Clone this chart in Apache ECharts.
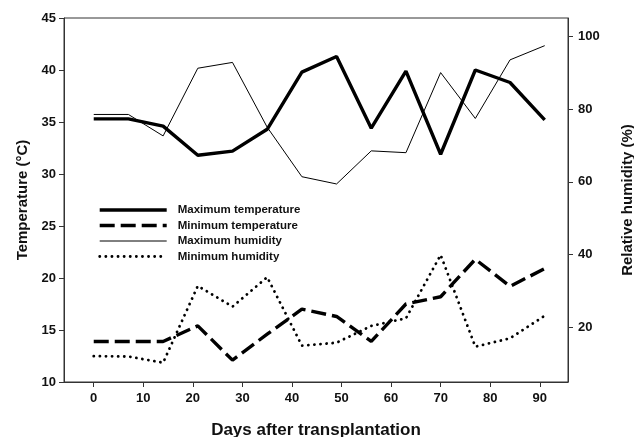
<!DOCTYPE html>
<html>
<head>
<meta charset="utf-8">
<script src="https://cdn.jsdelivr.net/npm/echarts@6/dist/echarts.min.js"></script>
<style>
html,body{margin:0;padding:0;background:#fff;}
#chart{width:634px;height:437px;}
</style>
</head>
<body>
<div id="chart"></div>
<script>
const days = [0, 7, 14, 21, 28, 35, 42, 49, 56, 63, 70, 77, 84, 91];
const maxTemp = [35.3, 35.3, 34.6, 31.8, 32.2, 34.3, 39.8, 41.3, 34.4, 39.9, 31.9, 40.0, 38.8, 35.2];
const minTemp = [13.9, 13.9, 13.9, 15.4, 12.1, 14.6, 17.0, 16.3, 13.9, 17.5, 18.2, 21.8, 19.2, 20.9];
const maxHum = [78.5, 78.5, 72.6, 91.2, 92.8, 75.0, 61.4, 59.4, 68.5, 68.0, 90.0, 77.4, 93.5, 97.4];
const minHum = [12.1, 12.0, 10.3, 31.4, 25.7, 33.8, 15.0, 15.8, 20.4, 22.5, 39.9, 14.7, 17.0, 23.2];
const xTicks = [0, 10, 20, 30, 40, 50, 60, 70, 80, 90];
const humTicks = [20, 40, 60, 80, 100];
const seriesNames = ['Maximum temperature', 'Minimum temperature', 'Maximum humidity', 'Minimum humidity'];

const pairs = (ys) => days.map((d, i) => [d, ys[i]]);
const FONT = '"Liberation Sans", Arial, sans-serif';
const axisColor = '#333';

const styles = [
  {color: '#000', width: 3.4, type: 'solid'},
  {color: '#000', width: 3.4, type: [15, 6]},
  {color: '#000', width: 1, type: 'solid'},
  {color: '#000', width: 2.8, type: [0.1, 6], cap: 'round'}
];
const axisIdx = [0, 0, 1, 1];
const values = [maxTemp, minTemp, maxHum, minHum];

const chart = echarts.init(document.getElementById('chart'), null, {renderer: 'canvas'});
chart.setOption({
  animation: false,
  backgroundColor: '#fff',
  textStyle: {fontFamily: FONT},
  grid: {left: 64, right: 66, top: 18, bottom: 55, show: true, borderColor: axisColor, borderWidth: 1,
         containLabel: false, outerBoundsMode: 'none'},
  legend: {
    orient: 'vertical', left: 93, top: 199,
    itemWidth: 67, itemHeight: 12, itemGap: 3.5,
    data: seriesNames.map((n, i) => ({name: n, lineStyle: Object.assign({}, styles[i])})),
    itemStyle: {opacity: 0},
    textStyle: {fontFamily: FONT, fontWeight: 'bold', fontSize: 11.5, color: '#111', padding: [0, 0, 0, 6], lineHeight: 12}
  },
  xAxis: {
    type: 'value', min: -6, max: 95.7,
    axisLine: {show: true, onZero: false, lineStyle: {color: axisColor}},
    axisTick: {show: true, length: 5, customValues: xTicks, lineStyle: {color: axisColor}},
    axisLabel: {customValues: xTicks, margin: 10, fontWeight: 'bold', fontSize: 13, color: '#111', fontFamily: FONT},
    splitLine: {show: false},
    name: 'Days after transplantation', nameLocation: 'middle', nameGap: 40,
    nameTextStyle: {fontWeight: 'bold', fontSize: 17, color: '#111', fontFamily: FONT}
  },
  yAxis: [{
    type: 'value', min: 10, max: 45, interval: 5, position: 'left',
    axisLine: {show: true, onZero: false, lineStyle: {color: axisColor}},
    axisTick: {show: true, length: 5, lineStyle: {color: axisColor}},
    axisLabel: {margin: 8, fontWeight: 'bold', fontSize: 13, color: '#111', fontFamily: FONT},
    splitLine: {show: false},
    name: 'Temperature (°C)', nameLocation: 'middle', nameGap: 33, nameRotate: 90,
    nameTextStyle: {fontWeight: 'bold', fontSize: 15, color: '#111', fontFamily: FONT}
  }, {
    type: 'value', min: 5, max: 105, position: 'right',
    axisLine: {show: true, onZero: false, lineStyle: {color: axisColor}},
    axisTick: {show: true, length: 5, customValues: humTicks, lineStyle: {color: axisColor}},
    axisLabel: {customValues: humTicks, margin: 10, fontWeight: 'bold', fontSize: 13, color: '#111', fontFamily: FONT},
    splitLine: {show: false},
    name: 'Relative humidity (%)', nameLocation: 'middle', nameGap: 52, nameRotate: 90,
    nameTextStyle: {fontWeight: 'bold', fontSize: 15, color: '#111', fontFamily: FONT}
  }],
  series: seriesNames.map((n, i) => ({
    name: n, type: 'line', yAxisIndex: axisIdx[i], data: pairs(values[i]), symbol: 'none',
    lineStyle: styles[i], itemStyle: {color: '#000'}
  }))
});
</script>
</body>
</html>
